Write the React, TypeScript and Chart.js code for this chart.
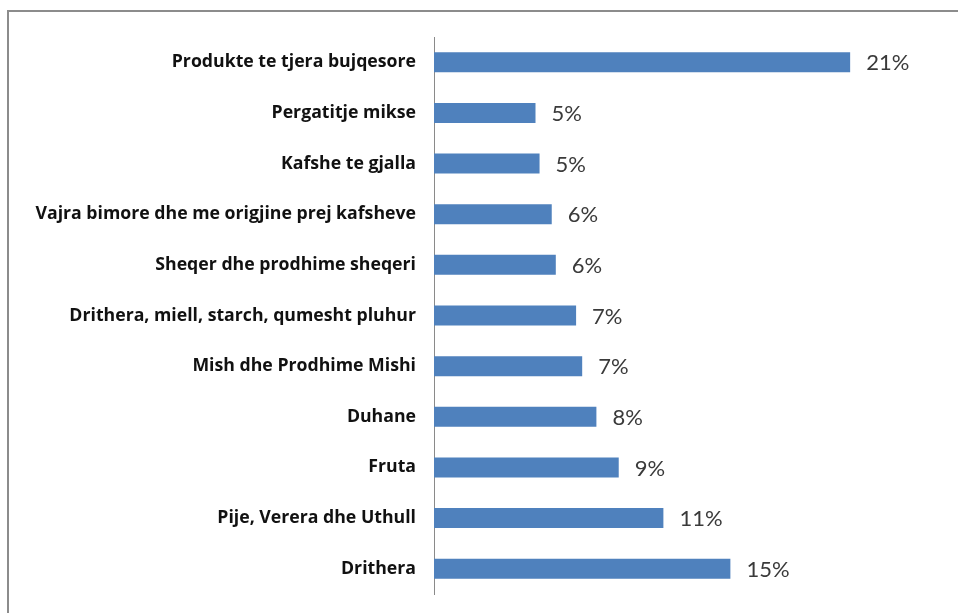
import React, { useEffect, useRef } from "react";
import { Chart, registerables } from "chart.js";

Chart.register(...registerables);

const categories: string[] = [
  "Produkte te tjera bujqesore",
  "Pergatitje mikse",
  "Kafshe te gjalla",
  "Vajra bimore dhe me origjine prej kafsheve",
  "Sheqer dhe prodhime sheqeri",
  "Drithera, miell, starch, qumesht pluhur",
  "Mish dhe Prodhime Mishi",
  "Duhane",
  "Fruta",
  "Pije, Verera dhe Uthull",
  "Drithera",
];

const shares: number[] = [20.5, 5.0, 5.2, 5.8, 6.0, 7.0, 7.3, 8.0, 9.1, 11.3, 14.6];

const valueLabelPlugin = {
  id: "valueLabels",
  afterDatasetsDraw(chart: any) {
    const ctx = chart.ctx;
    const meta = chart.getDatasetMeta(0);
    ctx.save();
    ctx.font = "22px Lato";
    ctx.fillStyle = "#3a3a3a";
    ctx.textAlign = "left";
    ctx.textBaseline = "middle";
    meta.data.forEach((bar: any, i: number) => {
      const v = chart.data.datasets[0].data[i] as number;
      ctx.fillText(Math.round(v) + "%", bar.x + 16, bar.y + 1);
    });
    ctx.restore();
  },
};

export default function App() {
  const ref = useRef<HTMLCanvasElement | null>(null);

  useEffect(() => {
    if (!ref.current) return;
    const chart = new Chart(ref.current, {
      type: "bar",
      data: {
        labels: categories,
        datasets: [
          {
            data: shares,
            backgroundColor: "#4f81bd",
            borderWidth: 0,
            categoryPercentage: 1,
            barPercentage: 0.395,
          },
        ],
      },
      options: {
        indexAxis: "y",
        animation: false,
        responsive: false,
        maintainAspectRatio: false,
        layout: { padding: { top: 37, bottom: 19, left: 0, right: 16.5 } },
        plugins: {
          legend: { display: false },
          tooltip: { enabled: false },
        },
        scales: {
          x: {
            display: false,
            min: 0,
            max: 25,
          },
          y: {
            afterFit(scale: any) {
              scale.width = 434;
              scale.paddingTop = 0;
              scale.paddingBottom = 0;
            },
            grid: { display: false, drawTicks: false },
            border: { display: true, color: "#8a8a8a", width: 1 },
            ticks: {
              padding: 18,
              color: "#111111",
              font: { family: "Open Sans", size: 17.7, weight: "bold" },
            },
          },
        },
      },
      plugins: [valueLabelPlugin],
    });
    return () => chart.destroy();
  }, []);

  return (
    <div
      style={{
        position: "fixed",
        left: 0,
        top: 0,
        width: 958,
        height: 613,
        background: "#ffffff",
        overflow: "hidden",
      }}
    >
      <div
        style={{
          position: "absolute",
          left: 7,
          top: 10,
          width: 1000,
          height: 1000,
          borderLeft: "2px solid #8c8c8c",
          borderTop: "2px solid #8c8c8c",
        }}
      />
      <canvas
        ref={ref}
        width={958}
        height={613}
        style={{ position: "absolute", left: 0, top: 0 }}
      />
    </div>
  );
}
